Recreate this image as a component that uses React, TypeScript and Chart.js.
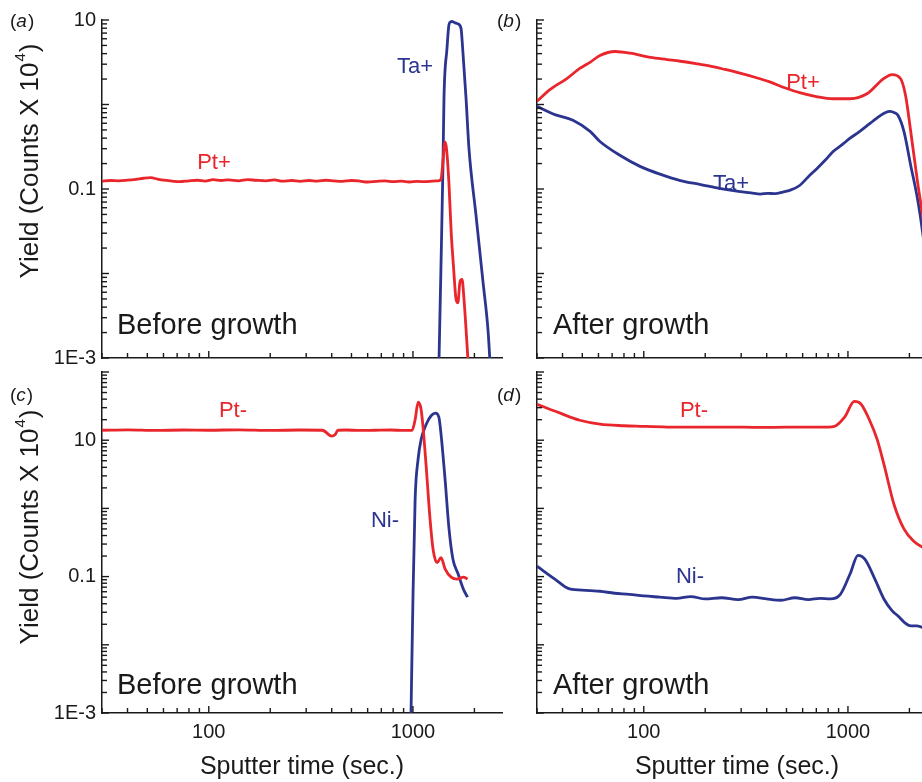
import React, { useEffect, useRef } from "react";
import { Chart, registerables } from "chart.js";
Chart.register(...registerables);

const RED = "#e8262b";
const BLUE = "#2b3590";
const FONT = "'Liberation Sans', Arial, sans-serif";

// ---------- Panel (a): before growth, positive ions ----------
const aPtTime = [30, 33, 36, 40, 44, 48, 52, 56, 60, 66, 72, 80, 88, 96, 105, 115, 125, 140, 155, 170, 190, 210, 230, 255, 280, 310, 340, 375, 410, 450, 500, 550, 600, 660, 730, 800, 880, 960, 1050, 1150, 1250, 1330, 1372, 1400, 1435, 1460, 1500, 1540, 1580, 1625, 1660, 1700, 1740, 1778, 1820, 1862];
const aPtYield = [0.124, 0.126, 0.125, 0.127, 0.13, 0.134, 0.136, 0.131, 0.127, 0.124, 0.122, 0.125, 0.127, 0.124, 0.129, 0.126, 0.128, 0.125, 0.129, 0.127, 0.125, 0.128, 0.124, 0.126, 0.123, 0.126, 0.124, 0.127, 0.125, 0.123, 0.126, 0.124, 0.121, 0.123, 0.125, 0.122, 0.124, 0.121, 0.123, 0.122, 0.124, 0.125, 0.13, 0.2, 0.36, 0.3, 0.12, 0.03, 0.012, 0.005, 0.0045, 0.008, 0.0085, 0.005, 0.0022, 0.0009];
const aTaTime = [1341, 1372, 1403, 1419, 1468, 1501, 1530, 1553, 1600, 1662, 1719, 1752, 1820, 1881, 2036, 2203, 2333, 2384];
const aTaYield = [0.0009, 0.0124, 0.19, 1.18, 4.6, 8.8, 9.5, 9.6, 9.3, 9.0, 8.0, 4.6, 1.18, 0.3, 0.049, 0.008, 0.0021, 0.0009];

// ---------- Panel (b): after growth, positive ions ----------
const bPtTime = [30, 34.7, 42, 48.6, 55, 61, 72.3, 85.8, 108, 130, 151, 180, 212, 250, 296, 350, 414, 490, 580, 700, 846, 1025, 1245, 1485, 1648, 1808, 1915, 2030, 2190, 2320, 2510];
const bPtYield = [1.09, 1.5, 2.03, 2.67, 3.2, 3.8, 4.24, 4.05, 3.6, 3.4, 3.25, 3.05, 2.85, 2.6, 2.35, 2.1, 1.85, 1.58, 1.38, 1.24, 1.17, 1.17, 1.35, 2.0, 2.26, 2.03, 1.28, 0.48, 0.123, 0.049, 0.0115];
const bTaTime = [30, 36.7, 45, 54.6, 61, 76.7, 96.4, 121, 151, 190, 238, 296, 335, 372, 405, 440, 480, 522, 580, 640, 706, 775, 846, 930, 1025, 1130, 1245, 1340, 1440, 1520, 1610, 1690, 1760, 1880, 2030, 2190, 2320, 2510];
const bTaYield = [0.95, 0.76, 0.65, 0.48, 0.365, 0.249, 0.184, 0.149, 0.126, 0.113, 0.101, 0.093, 0.09, 0.087, 0.089, 0.088, 0.092, 0.097, 0.11, 0.14, 0.175, 0.22, 0.278, 0.33, 0.4, 0.47, 0.565, 0.65, 0.74, 0.8, 0.83, 0.8, 0.74, 0.48, 0.19, 0.077, 0.031, 0.0066];

// ---------- Panel (c): before growth, negative ions ----------
const cPtTime = [30, 40, 55, 75, 100, 140, 200, 280, 360, 400, 415, 430, 470, 550, 650, 780, 900, 991, 1025, 1060, 1097, 1134, 1173, 1213, 1255, 1313, 1373, 1436, 1539, 1650, 1768, 1852];
const cPtYield = [14.0, 14.2, 13.9, 14.1, 14.0, 14.2, 13.9, 14.1, 14.0, 11.5, 12.0, 14.0, 14.1, 13.9, 14.0, 14.1, 13.9, 14.0, 20, 36, 28, 10.3, 2.7, 0.69, 0.25, 0.16, 0.19, 0.13, 0.098, 0.092, 0.098, 0.092];
const cNiTime = [978, 1000, 1025, 1060, 1097, 1160, 1230, 1290, 1340, 1373, 1436, 1502, 1570, 1663, 1768, 1852];
const cNiYield = [0.0009, 0.047, 1.36, 5.3, 10.3, 17, 23, 25, 21.7, 12.2, 2.7, 0.5, 0.18, 0.11, 0.065, 0.05];

// ---------- Panel (d): after growth, negative ions ----------
const dPtTime = [30, 39, 48.6, 61, 80, 96, 130, 190, 260, 372, 500, 730, 860, 962, 1075, 1160, 1270, 1390, 1500, 1680, 1880, 2100, 2320, 2510];
const dPtYield = [33.7, 24.9, 19.6, 17.2, 16.3, 16, 15.6, 15.5, 15.6, 15.4, 15.5, 15.5, 16, 21.7, 37, 33.7, 20.3, 10.3, 4.45, 1.15, 0.5, 0.33, 0.27, 0.24];
const dNiTime = [30, 36.7, 43.3, 52, 61, 72, 85, 100, 120, 145, 170, 200, 240, 290, 340, 400, 470, 550, 640, 730, 820, 918, 1025, 1120, 1210, 1355, 1500, 1640, 1770, 1900, 2030, 2180, 2320, 2510];
const dNiYield = [0.142, 0.092, 0.066, 0.063, 0.061, 0.057, 0.055, 0.052, 0.05, 0.048, 0.051, 0.047, 0.049, 0.046, 0.05, 0.047, 0.045, 0.049, 0.046, 0.048, 0.047, 0.055, 0.11, 0.205, 0.18, 0.092, 0.047, 0.032, 0.026, 0.021, 0.019, 0.019, 0.018, 0.018];

// axis settings
const X_MIN = 30;
const X_MAX = 2730;
const xTickLabels = [100, 1000];
const yTickLabels = [10, 0.1, 0.001];

type Label = { text: string; x: number; y: number; color: string; size?: number };

type PanelSpec = {
  pt: [number[], number[]];
  other: [number[], number[]];
  yMin: number;
  yMax: number;
  area: { l: number; t: number; r: number; b: number };
  yAxisW: number;
  xAxisH: number;
  showYLabels: boolean;
  showXLabels: boolean;
  letter: string;
  letterPos: [number, number];
  labels: Label[];
  caption: string;
  captionPos: [number, number];
  yTitle?: [number, number];
};

const CW = 960;
const CH = 782;

function fmtY(v: number): string | null {
  for (const t of yTickLabels) {
    if (Math.abs(Math.log10(v) - Math.log10(t)) < 1e-6) {
      if (t === 0.001) return "1E-3";
      return String(t);
    }
  }
  return null;
}

function makeConfig(p: PanelSpec): any {
  const toPts = (s: [number[], number[]]) => s[0].map((t, i) => ({ x: t, y: s[1][i] }));
  const decor = {
    id: "decor",
    afterDraw(chart: any) {
      const ctx = chart.ctx as CanvasRenderingContext2D;
      const xs = chart.scales.x;
      const ys = chart.scales.y;
      const ca = chart.chartArea;
      ctx.save();
      ctx.strokeStyle = "#1a1a1a";
      ctx.lineWidth = 1.4;
      for (let d = -4; d <= 4; d++) {
        for (let k = 1; k <= 9; k++) {
          const v = k * Math.pow(10, d);
          if (v >= xs.min * 0.999 && v <= xs.max * 1.001) {
            const px = xs.getPixelForValue(v);
            const len = k === 1 ? 7 : 5;
            ctx.beginPath();
            ctx.moveTo(px, ca.bottom);
            ctx.lineTo(px, ca.bottom - len);
            ctx.stroke();
          }
          if (v >= ys.min * 0.999 && v <= ys.max * 1.001) {
            const py = ys.getPixelForValue(v);
            const len = k === 1 ? 7 : 5;
            ctx.beginPath();
            ctx.moveTo(ca.left, py);
            ctx.lineTo(ca.left + len, py);
            ctx.stroke();
          }
        }
      }
      // panel letter
      ctx.fillStyle = "#1a1a1a";
      ctx.textBaseline = "middle";
      ctx.textAlign = "left";
      let lx = p.letterPos[0];
      const ly = p.letterPos[1];
      ctx.font = `19px ${FONT}`;
      ctx.fillText("(", lx, ly);
      lx += ctx.measureText("(").width;
      ctx.font = `italic 19px ${FONT}`;
      ctx.fillText(p.letter, lx, ly);
      lx += ctx.measureText(p.letter).width + 1;
      ctx.font = `19px ${FONT}`;
      ctx.fillText(")", lx, ly);
      // caption
      ctx.font = `29px ${FONT}`;
      ctx.fillText(p.caption, p.captionPos[0], p.captionPos[1]);
      // series labels
      ctx.textAlign = "center";
      for (const l of p.labels) {
        ctx.fillStyle = l.color;
        ctx.font = `${l.size || 22}px ${FONT}`;
        ctx.fillText(l.text, l.x, l.y);
      }
      // y title
      if (p.yTitle) {
        ctx.fillStyle = "#1a1a1a";
        ctx.translate(p.yTitle[0], p.yTitle[1]);
        ctx.rotate(-Math.PI / 2);
        const big = `26px ${FONT}`;
        const small = `15px ${FONT}`;
        const main = "Yield (Counts X 10";
        ctx.font = big;
        const w1 = ctx.measureText(main).width;
        const w3 = ctx.measureText(")").width;
        ctx.font = small;
        const w2 = ctx.measureText("4").width;
        let x = -(w1 + w2 + w3) / 2;
        ctx.textAlign = "left";
        ctx.font = big;
        ctx.fillText(main, x, 0);
        x += w1;
        ctx.font = small;
        ctx.fillText("4", x + 1, -10);
        x += w2 + 2;
        ctx.font = big;
        ctx.fillText(")", x, 0);
      }
      ctx.restore();
    },
  };

  return {
    type: "line",
    data: {
      datasets: [
        {
          data: toPts(p.pt),
          borderColor: RED,
          borderWidth: 2.8,
          pointRadius: 0,
          cubicInterpolationMode: "monotone",
          fill: false,
        },
        {
          data: toPts(p.other),
          borderColor: BLUE,
          borderWidth: 2.8,
          pointRadius: 0,
          cubicInterpolationMode: "monotone",
          fill: false,
        },
      ],
    },
    options: {
      animation: false,
      responsive: false,
      devicePixelRatio: 1,
      events: [],
      layout: {
        padding: {
          left: p.area.l - p.yAxisW,
          top: p.area.t,
          right: CW - p.area.r,
          bottom: CH - p.area.b - p.xAxisH,
        },
      },
      plugins: { legend: { display: false }, tooltip: { enabled: false }, title: { display: false } },
      scales: {
        x: {
          type: "logarithmic",
          min: X_MIN,
          max: X_MAX,
          grid: { display: false, drawTicks: false },
          border: { display: true, color: "#1a1a1a", width: 1.5 },
          ticks: {
            display: p.showXLabels,
            autoSkip: false,
            maxRotation: 0,
            minRotation: 0,
            padding: 7,
            color: "#1a1a1a",
            font: { family: FONT, size: 20 },
            callback: (v: number) => {
              for (const t of xTickLabels) if (Math.abs(v - t) < 1e-6) return String(t);
              return null;
            },
          },
          title: {
            display: p.showXLabels,
            text: "Sputter time (sec.)",
            color: "#1a1a1a",
            font: { family: FONT, size: 25 },
            padding: { top: 0, bottom: 0 },
          },
          afterFit: (s: any) => {
            s.height = p.xAxisH;
          },
        },
        y: {
          type: "logarithmic",
          min: p.yMin,
          max: p.yMax,
          grid: { display: false, drawTicks: false },
          border: { display: true, color: "#1a1a1a", width: 1.5 },
          ticks: {
            display: p.showYLabels,
            autoSkip: false,
            padding: 6,
            color: "#1a1a1a",
            font: { family: FONT, size: 20 },
            callback: (v: number) => fmtY(v),
          },
          afterFit: (s: any) => {
            s.width = p.yAxisW;
          },
        },
      },
    },
    plugins: [decor],
  };
}

const panels: PanelSpec[] = [
  {
    pt: [aPtTime, aPtYield],
    other: [aTaTime, aTaYield],
    yMin: 0.001,
    yMax: 10,
    area: { l: 102, t: 20, r: 502, b: 358 },
    yAxisW: 102,
    xAxisH: 20,
    showYLabels: true,
    showXLabels: false,
    letter: "a",
    letterPos: [10, 22],
    labels: [
      { text: "Pt+", x: 214, y: 163, color: RED },
      { text: "Ta+", x: 415, y: 67, color: BLUE },
    ],
    caption: "Before growth",
    captionPos: [117, 326],
    yTitle: [31, 162],
  },
  {
    pt: [bPtTime, bPtYield],
    other: [bTaTime, bTaYield],
    yMin: 0.001,
    yMax: 10,
    area: { l: 537, t: 20, r: 937, b: 358 },
    yAxisW: 57,
    xAxisH: 20,
    showYLabels: false,
    showXLabels: false,
    letter: "b",
    letterPos: [497, 22],
    labels: [
      { text: "Pt+", x: 803, y: 83, color: RED },
      { text: "Ta+", x: 731, y: 184, color: BLUE },
    ],
    caption: "After growth",
    captionPos: [553, 326],
  },
  {
    pt: [cPtTime, cPtYield],
    other: [cNiTime, cNiYield],
    yMin: 0.001,
    yMax: 100,
    area: { l: 102, t: 372, r: 502, b: 713 },
    yAxisW: 102,
    xAxisH: 69,
    showYLabels: true,
    showXLabels: true,
    letter: "c",
    letterPos: [10, 396],
    labels: [
      { text: "Pt-", x: 233, y: 411, color: RED },
      { text: "Ni-", x: 385, y: 521, color: BLUE },
    ],
    caption: "Before growth",
    captionPos: [117, 686],
    yTitle: [31, 528],
  },
  {
    pt: [dPtTime, dPtYield],
    other: [dNiTime, dNiYield],
    yMin: 0.001,
    yMax: 100,
    area: { l: 537, t: 372, r: 937, b: 713 },
    yAxisW: 57,
    xAxisH: 69,
    showYLabels: false,
    showXLabels: true,
    letter: "d",
    letterPos: [497, 396],
    labels: [
      { text: "Pt-", x: 694, y: 411, color: RED },
      { text: "Ni-", x: 690, y: 577, color: BLUE },
    ],
    caption: "After growth",
    captionPos: [553, 686],
  },
];

function Panel({ spec }: { spec: PanelSpec }) {
  const ref = useRef<HTMLCanvasElement | null>(null);
  useEffect(() => {
    if (!ref.current) return;
    const chart = new Chart(ref.current, makeConfig(spec));
    return () => chart.destroy();
  }, [spec]);
  return (
    <canvas
      ref={ref}
      width={CW}
      height={CH}
      style={{ position: "absolute", left: 0, top: 0, width: CW, height: CH }}
    />
  );
}

export default function App() {
  return (
    <div
      style={{
        position: "absolute",
        left: 0,
        top: 0,
        width: 922,
        height: 782,
        overflow: "hidden",
        background: "#fff",
      }}
    >
      {panels.map((p, i) => (
        <Panel key={i} spec={p} />
      ))}
    </div>
  );
}
